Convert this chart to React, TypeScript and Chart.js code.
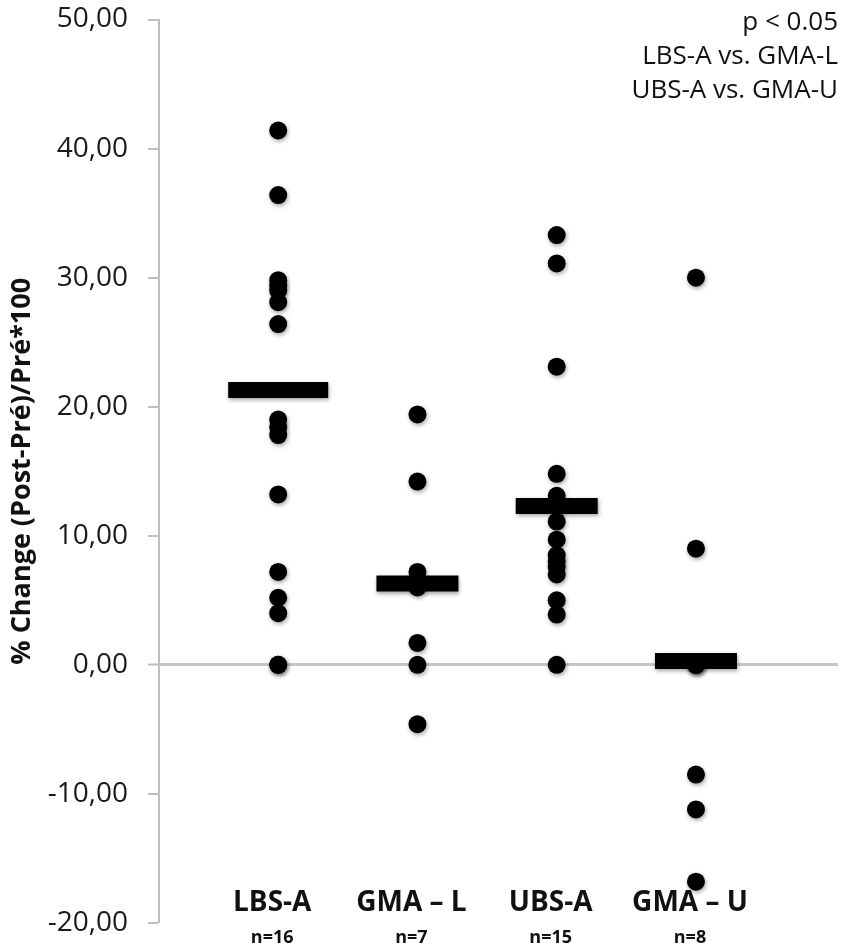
import React, { useEffect, useRef } from "react";
import { Chart, registerables } from "chart.js";

Chart.register(...registerables);

const groupNames = ["LBS-A", "GMA \u2013 L", "UBS-A", "GMA \u2013 U"];
const groupCounts = ["n=16", "n=7", "n=15", "n=8"];
const lbsA = [41.4, 36.4, 29.8, 29.4, 29.0, 28.1, 26.4, 19.0, 18.4, 17.8, 13.2, 7.2, 5.2, 4.0, 0.0, 0.0];
const gmaL = [19.4, 14.2, 7.2, 6.0, 1.7, 0.0, -4.6];
const ubsA = [33.3, 31.1, 23.1, 14.8, 13.1, 12.3, 11.1, 9.7, 8.5, 8.0, 7.6, 7.0, 5.0, 3.9, 0.0];
const gmaU = [30.0, 9.0, 0.0, 0.0, 0.0, -8.5, -11.2, -16.8];
const groupMeans = [21.3, 6.3, 12.3, 0.3];
const annotationLines = ["p < 0.05", "LBS-A vs. GMA-L", "UBS-A vs. GMA-U"];
const yTitle = "% Change (Post-Pr\u00e9)/Pr\u00e9*100";
const yMin = -20;
const yMax = 50;
const yStep = 10;

const groupValues = [lbsA, gmaL, ubsA, gmaU];

const shadowPlugin = {
  id: "dotShadow",
  beforeDatasetsDraw(chart: any) {
    const ctx = chart.ctx;
    ctx.save();
    ctx.shadowColor = "rgba(0,0,0,0.35)";
    ctx.shadowBlur = 4;
    ctx.shadowOffsetX = 1;
    ctx.shadowOffsetY = 2;
  },
  afterDatasetsDraw(chart: any) {
    chart.ctx.restore();
  },
};

const labelsPlugin = {
  id: "groupLabels",
  afterDraw(chart: any) {
    const ctx = chart.ctx;
    const xs = chart.scales.x;
    const area = chart.chartArea;
    ctx.save();
    ctx.fillStyle = "#111";
    ctx.textAlign = "center";
    ctx.textBaseline = "middle";
    groupNames.forEach((name, i) => {
      const x = xs.getPixelForValue(i + 1) - 6;
      ctx.font = "bold 28px 'Open Sans'";
      ctx.fillText(name, x, area.bottom - 20);
      ctx.font = "bold 18px 'Open Sans'";
      ctx.fillText(groupCounts[i], x, area.bottom + 15);
    });
    ctx.textAlign = "right";
    ctx.font = "26px 'Open Sans'";
    annotationLines.forEach((t, i) => {
      ctx.fillText(t, area.right, area.top + 3 + i * 34);
    });
    ctx.restore();
  },
};

export default function App() {
  const ref = useRef<HTMLCanvasElement>(null);
  useEffect(() => {
    if (!ref.current) return;
    const dotData: { x: number; y: number }[] = [];
    groupValues.forEach((vals, i) => vals.forEach((v) => dotData.push({ x: i + 1, y: v })));
    const meanData = groupMeans.map((m, i) => ({ x: i + 1, y: m }));
    const chart = new Chart(ref.current, {
      type: "scatter",
      data: {
        datasets: [
          {
            label: "mean",
            data: meanData,
            pointStyle: "line",
            pointRadius: [50, 41, 41, 41],
            pointHoverRadius: [50, 41, 41, 41],
            pointBorderWidth: 16,
            pointHoverBorderWidth: 16,
            pointBorderColor: "#000",
            pointBackgroundColor: "#000",
          } as any,
          {
            label: "values",
            data: dotData,
            pointStyle: "circle",
            pointRadius: 9,
            pointHoverRadius: 9,
            pointBorderWidth: 0,
            pointBackgroundColor: "#000",
            pointBorderColor: "#000",
          } as any,
        ],
      },
      options: {
        animation: false,
        responsive: false,
        devicePixelRatio: 1,
        events: [],
        layout: { autoPadding: false, padding: { left: 0, right: 8, top: 19.5, bottom: 29 } },
        plugins: {
          legend: { display: false },
          tooltip: { enabled: false },
        },
        scales: {
          x: {
            type: "linear",
            display: false,
            min: 0.144,
            max: 5.02,
          },
          y: {
            type: "linear",
            min: yMin,
            max: yMax,
            afterFit(scale: any) {
              scale.width = 159;
              scale.paddingTop = 0;
              scale.paddingBottom = 0;
            },
            ticks: {
              stepSize: yStep,
              padding: 20,
              color: "#1a1a1a",
              font: { family: "'Open Sans'", size: 28 },
              callback: (v: any) => Number(v).toFixed(2).replace(".", ","),
            },
            grid: {
              color: (c: any) => (c.tick && c.tick.value === 0 ? "#c6c6c6" : "rgba(0,0,0,0)"),
              lineWidth: (c: any) => (c.tick && c.tick.value === 0 ? 3 : 0),
              tickColor: "#bfbfbf",
              tickWidth: 2,
              tickLength: 11,
            },
            border: { display: true, color: "#bfbfbf", width: 2 },
            title: {
              display: true,
              text: yTitle,
              color: "#111",
              font: { family: "'Open Sans'", size: 27, weight: "bold" },
              padding: { top: 6, bottom: 0 },
            },
          },
        },
      },
      plugins: [shadowPlugin, labelsPlugin],
    } as any);
    return () => chart.destroy();
  }, []);
  return (
    <div style={{ position: "fixed", left: 0, top: 0, width: 846, height: 952, background: "#fff" }}>
      <canvas ref={ref} width={846} height={952} />
    </div>
  );
}
